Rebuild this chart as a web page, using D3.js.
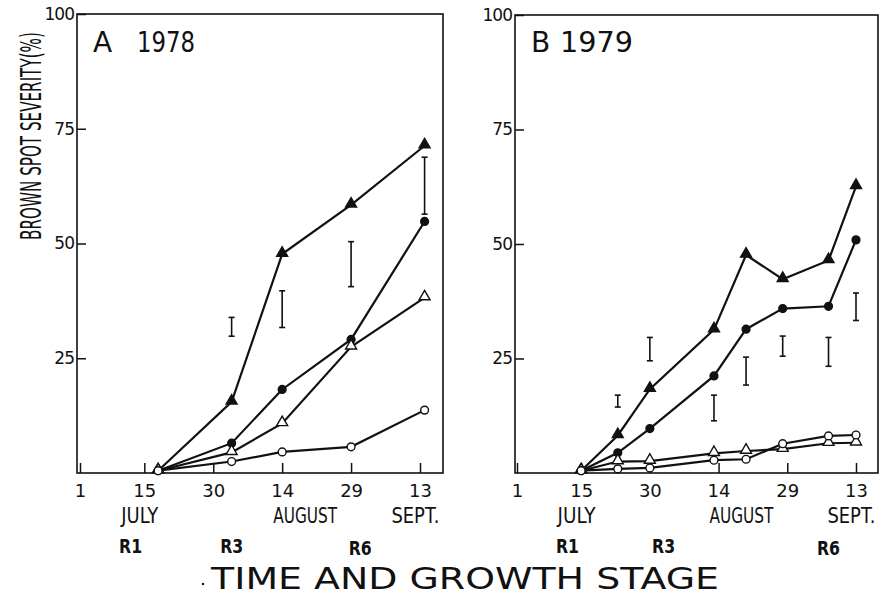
<!DOCTYPE html>
<html>
<head>
<meta charset="utf-8">
<script src="https://cdn.jsdelivr.net/npm/d3@7"></script>
<style>
  body { margin: 0; background: #fff; }
  svg { display: block; }
  text { font-family: "DejaVu Sans", sans-serif; fill: #111; }
</style>
</head>
<body>
<div id="content"></div>
<script>
const svgWidth = 892, svgHeight = 596;

// 1978 (panel A)
const datesA = ["1978-07-18", "1978-08-03", "1978-08-14", "1978-08-29", "1978-09-14"];
const fTriA  = [0.5, 15.5, 47.7, 58.4, 71.3];
const fCircA = [0.5, 6.5, 18.2, 29.1, 54.8];
const oTriA  = [0.5, 4.5, 10.8, 27.5, 38.2];
const oCircA = [0.5, 2.5, 4.6, 5.7, 13.7];
const lsdDatesA = ["1978-08-03", "1978-08-14", "1978-08-29", "1978-09-14"];
const lsdLowA  = [29.8, 31.7, 40.6, 56.4];
const lsdHighA = [33.9, 39.7, 50.4, 68.8];
const stagesA = [["R1", "1978-07-12"], ["R3", "1978-08-03"], ["R6", "1978-08-31"]];

// 1979 (panel B)
const datesB = ["1979-07-15", "1979-07-23", "1979-07-30", "1979-08-13", "1979-08-20", "1979-08-28", "1979-09-07", "1979-09-13"];
const fTriB  = [0.5, 8.2, 18.3, 31.3, 47.6, 42.3, 46.4, 62.6];
const fCircB = [0.5, 4.4, 9.7, 21.2, 31.4, 35.9, 36.4, 50.9];
const oTriB  = [0.5, 2.5, 2.6, 4.3, 4.8, 5.2, 6.5, 6.6];
const oCircB = [0.5, 0.9, 1.1, 2.8, 3.0, 6.4, 8.1, 8.3];
const lsdDatesB = ["1979-07-23", "1979-07-30", "1979-08-13", "1979-08-20", "1979-08-28", "1979-09-07", "1979-09-13"];
const lsdLowB  = [14.4, 24.5, 11.4, 19.2, 25.5, 23.3, 33.3];
const lsdHighB = [17.0, 29.6, 17.0, 25.3, 29.9, 29.6, 39.3];
const stagesB = [["R1", "1979-07-12"], ["R3", "1979-08-02"], ["R6", "1979-09-07"]];

// axes
const tickDays   = ["07-01", "07-15", "07-30", "08-14", "08-29", "09-13"];
const tickLabels = ["1", "15", "30", "14", "29", "13"];
const monthDays  = ["07-14", "08-19", "09-12"];
const monthLabels = ["JULY", "AUGUST", "SEPT."];
const yTicks = [25, 50, 75, 100];

const parse = d3.timeParse("%Y-%m-%d");

// squeeze a text horizontally so it is w pixels wide (lettering is condensed)
const fit = (sel, w, pre) => {
  sel.each(function (d, i) {
    const t = d3.select(this);
    const len = this.getComputedTextLength();
    const ww = typeof w === "function" ? w(d, i) : w;
    const k = ww / len;
    const x = +t.attr("x") || 0, y = +t.attr("y") || 0;
    t.attr("x", null).attr("y", null)
      .attr("transform", `translate(${x},${y}) ${pre || ""} scale(${k},1)`);
  });
};

const drawPanel = (svg, p) => {
  const x = d3.scaleTime()
    .domain([parse(p.year + "-07-01"), parse(p.year + "-09-13")])
    .range([p.x0, p.x1]);
  const y = d3.scaleLinear().domain([0, 100]).range([473, p.top]);
  const g = svg.append("g");

  // frame
  g.append("rect")
    .attr("x", p.left).attr("y", p.top)
    .attr("width", p.right - p.left).attr("height", 473 - p.top)
    .attr("fill", "none").attr("stroke", "#111").attr("stroke-width", 1.6);

  // x axis
  const xa = g.append("g").attr("transform", "translate(0,473)")
    .call(d3.axisBottom(x)
      .tickValues(tickDays.map(d => parse(p.year + "-" + d)))
      .tickFormat((d, i) => tickLabels[i])
      .tickSize(-10).tickPadding(8));
  xa.select(".domain").remove();
  xa.selectAll("line").attr("stroke", "#111").attr("stroke-width", 1.5);
  xa.selectAll("text").attr("font-size", 18).attr("dy", "0.9em")
    .style("font-family", "DejaVu Sans, sans-serif").attr("fill", "#111");

  // y axis
  const ya = g.append("g").attr("transform", `translate(${p.left},0)`)
    .call(d3.axisLeft(y).tickValues(yTicks).tickSize(-9).tickPadding(3));
  ya.select(".domain").remove();
  ya.selectAll("line").attr("stroke", "#111").attr("stroke-width", 1.5);
  ya.selectAll("text").attr("font-size", 17).attr("fill", "#111")
    .style("font-family", "DejaVu Sans, sans-serif").attr("letter-spacing", -1);

  // month labels
  g.selectAll(".month").data(monthLabels).enter().append("text")
    .attr("x", (d, i) => x(parse(p.year + "-" + monthDays[i])))
    .attr("y", 523).attr("text-anchor", "middle")
    .attr("font-size", 21)
    .text(d => d)
    .call(fit, (d, i) => p.monthW[i]);

  // growth stages
  g.selectAll(".stage").data(p.stages).enter().append("text")
    .attr("x", d => x(parse(d[1])))
    .attr("y", d => d[0] === "R6" ? 555 : 553).attr("text-anchor", "middle")
    .attr("font-size", 19).attr("font-weight", "bold")
    .text(d => d[0])
    .call(fit, 23);

  // panel title
  g.append("text").attr("x", p.left + 16).attr("y", 52)
    .attr("font-size", 28).text(p.key);
  g.append("text").attr("x", p.left + (p.key === "A" ? 60 : 45)).attr("y", 52)
    .attr("font-size", 28).text(p.year)
    .call(fit, p.key === "A" ? 58 : 73);

  // LSD bars
  const lsd = p.lsdDates.map((d, i) => ({x: x(parse(d)), lo: y(p.lsdLow[i]), hi: y(p.lsdHigh[i])}));
  const bars = g.selectAll(".lsd").data(lsd).enter().append("g")
    .attr("stroke", "#111").attr("stroke-width", 1.6);
  bars.append("line").attr("x1", d => d.x).attr("x2", d => d.x).attr("y1", d => d.lo).attr("y2", d => d.hi);
  bars.append("line").attr("x1", d => d.x - 3).attr("x2", d => d.x + 3).attr("y1", d => d.lo).attr("y2", d => d.lo);
  bars.append("line").attr("x1", d => d.x - 3).attr("x2", d => d.x + 3).attr("y1", d => d.hi).attr("y2", d => d.hi);

  // series lines
  const line = d3.line().x(d => x(d[0])).y(d => y(d[1]));
  p.series.forEach(s => {
    const pts = p.dates.map((d, i) => [parse(d), s.values[i]]);
    g.append("path").datum(pts).attr("d", line)
      .attr("fill", "none").attr("stroke", "#111").attr("stroke-width", 2.2);
  });
  p.series.forEach(s => {
    const pts = p.dates.map((d, i) => [parse(d), s.values[i]]);
    const sym = d3.symbol().type(s.shape === "tri" ? d3.symbolTriangle : d3.symbolCircle)
      .size(s.shape === "tri" ? 52 : 48);
    g.selectAll(null).data(pts).enter().append("path")
      .attr("d", sym)
      .attr("transform", d => `translate(${x(d[0])},${y(d[1]) - (s.shape === "tri" ? 1 : 0)})`)
      .attr("fill", s.filled ? "#111" : "#fff")
      .attr("stroke", "#111").attr("stroke-width", 1.4);
  });
};

window.addEventListener("load", () => {
  const svg = d3.select("#content").append("svg")
    .attr("width", svgWidth).attr("height", svgHeight);

  drawPanel(svg, {
    key: "A", year: "1978", left: 77, right: 443, top: 14, x0: 80, x1: 420,
    dates: datesA, lsdDates: lsdDatesA, lsdLow: lsdLowA, lsdHigh: lsdHighA,
    stages: stagesA, monthW: [37, 64, 48],
    series: [
      {values: fTriA, shape: "tri", filled: true},
      {values: fCircA, shape: "circ", filled: true},
      {values: oTriA, shape: "tri", filled: false},
      {values: oCircA, shape: "circ", filled: false}
    ]
  });
  drawPanel(svg, {
    key: "B", year: "1979", left: 515, right: 878, top: 15, x0: 517, x1: 856,
    dates: datesB, lsdDates: lsdDatesB, lsdLow: lsdLowB, lsdHigh: lsdHighB,
    stages: stagesB, monthW: [38, 64, 48],
    series: [
      {values: fTriB, shape: "tri", filled: true},
      {values: fCircB, shape: "circ", filled: true},
      {values: oTriB, shape: "tri", filled: false},
      {values: oCircB, shape: "circ", filled: false}
    ]
  });

  // y label
  svg.append("text")
    .attr("x", 41).attr("y", 136)
    .attr("text-anchor", "middle").attr("font-size", 29)
    .text("BROWN SPOT SEVERITY(%)")
    .call(fit, 208, "rotate(-90)");

  // x title
  svg.append("text").attr("x", 465).attr("y", 589)
    .attr("text-anchor", "middle").attr("font-size", 31)
    .text("TIME AND GROWTH STAGE")
    .call(fit, 508);
  svg.append("circle").attr("cx", 203).attr("cy", 584).attr("r", 1.2).attr("fill", "#111");
});
</script>
</body>
</html>
